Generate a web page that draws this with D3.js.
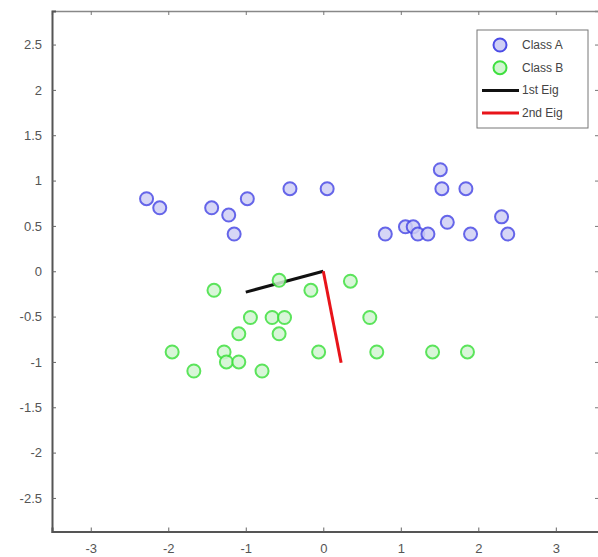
<!DOCTYPE html>
<html><head><meta charset="utf-8">
<script src="https://cdn.jsdelivr.net/npm/d3@7/dist/d3.min.js"></script>
<style>body{margin:0;background:#fff}svg{display:block}</style>
</head><body>
<svg id="c" width="598" height="557"></svg>
<script>
const classA = [
  [-2.28,0.80],[-2.11,0.70],[-1.44,0.70],[-1.22,0.62],[-1.15,0.41],[-0.98,0.80],
  [-0.43,0.91],[0.05,0.91],[0.80,0.41],[1.06,0.49],[1.16,0.49],[1.22,0.41],
  [1.35,0.41],[1.51,1.12],[1.53,0.91],[1.60,0.54],[1.84,0.91],[1.90,0.41],
  [2.30,0.60],[2.38,0.41]
];
const classB = [
  [-1.41,-0.21],[-0.57,-0.10],[-0.16,-0.21],[0.35,-0.11],[-0.94,-0.51],[-0.66,-0.51],
  [-0.50,-0.51],[0.60,-0.51],[-1.09,-0.69],[-0.57,-0.69],[-1.95,-0.89],[-1.28,-0.89],
  [-1.25,-1.00],[-1.09,-1.00],[-1.67,-1.10],[-0.79,-1.10],[-0.06,-0.89],[0.69,-0.89],
  [1.41,-0.89],[1.86,-0.89]
];
const eig1 = [[0,0],[-1.0,-0.23]];
const eig2 = [[0,0],[0.23,-1.01]];
const xTicks = [-3,-2,-1,0,1,2,3];
const yTicks = [-2.5,-2,-1.5,-1,-0.5,0,0.5,1,1.5,2,2.5];
const legendLabels = ["Class A","Class B","1st Eig","2nd Eig"];

const svg = d3.select("#c");
const L = 52, R = 600, T = 11, B = 531.5;
const x = d3.scaleLinear().domain([-3.5,3.57]).range([L,R]);
const y = d3.scaleLinear().domain([-2.87,2.87]).range([B,T]);
const fmt = d => String(d).replace("\u2212","-");

// top / right frame with inward ticks
const gt = svg.append("g").attr("transform",`translate(0,${T})`)
  .call(d3.axisTop(x).tickValues(xTicks).tickSize(-4).tickFormat(""));
const gr = svg.append("g").attr("transform",`translate(${R-1},0)`)
  .call(d3.axisRight(y).tickValues(yTicks).tickSize(-4).tickFormat(""));
[gt,gr].forEach(g=>{
  g.select(".domain").attr("stroke","#888").attr("stroke-width",1.3);
  g.selectAll(".tick line").attr("stroke","#777");
});

const font = "'Liberation Sans', Arial, sans-serif";
const xAxis = d3.axisBottom(x).tickValues(xTicks).tickSize(-4).tickPadding(12).tickFormat(fmt);
const gx = svg.append("g").attr("transform",`translate(0,${B})`).call(xAxis);
const yAxis = d3.axisLeft(y).tickValues(yTicks).tickSize(-4).tickPadding(10).tickFormat(fmt);
const gy = svg.append("g").attr("transform",`translate(${L},0)`).call(yAxis);
[gx,gy].forEach(g=>{
  g.select(".domain").attr("stroke","#555").attr("stroke-width",2);
  g.selectAll(".tick line").attr("stroke","#666");
  g.selectAll(".tick text").attr("fill","#555").style("font-family",font).style("font-size","13px");
});

// eigen lines
const line = d3.line().x(d=>x(d[0])).y(d=>y(d[1]));
svg.append("path").attr("d",line(eig1)).attr("stroke","#111").attr("stroke-width",3).attr("fill","none");
svg.append("path").attr("d",line(eig2)).attr("stroke","#e8141a").attr("stroke-width",3).attr("fill","none");

function pts(data, fill, stroke){
  svg.append("g").selectAll("circle").data(data).join("circle")
    .attr("cx",d=>x(d[0])).attr("cy",d=>y(d[1])).attr("r",6.5)
    .attr("fill",fill).attr("stroke",stroke).attr("stroke-width",2).attr("opacity",0.85);
}
pts(classA,"#cfcff5","#4b4be6");
pts(classB,"#d2f5d2","#3fe03f");

// legend
const lg = svg.append("g");
lg.append("rect").attr("x",477).attr("y",30).attr("width",111).attr("height",98)
  .attr("fill","#fff").attr("stroke","#777").attr("stroke-width",1);
const ly = d => 45 + d*22.7;
lg.append("circle").attr("cx",500).attr("cy",ly(0)).attr("r",6.5).attr("fill","#cfcff5").attr("stroke","#4b4be6").attr("stroke-width",2);
lg.append("circle").attr("cx",500).attr("cy",ly(1)).attr("r",6.5).attr("fill","#d2f5d2").attr("stroke","#3fe03f").attr("stroke-width",2);
lg.append("line").attr("x1",482).attr("x2",519).attr("y1",ly(2)).attr("y2",ly(2)).attr("stroke","#111").attr("stroke-width",3);
lg.append("line").attr("x1",482).attr("x2",519).attr("y1",ly(3)).attr("y2",ly(3)).attr("stroke","#e8141a").attr("stroke-width",3);
lg.selectAll("text.l").data(legendLabels).join("text").attr("class","l")
  .attr("x",522).attr("y",(d,i)=>ly(i)+4).text(d=>d)
  .attr("fill","#444").style("font-family",font).style("font-size","12px");
</script>
</body></html>
